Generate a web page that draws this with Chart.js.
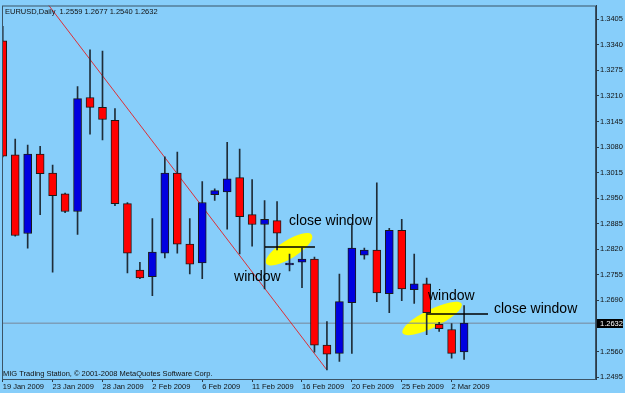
<!DOCTYPE html>
<html>
<head>
<meta charset="utf-8">
<script src="https://cdn.jsdelivr.net/npm/chart.js@4.4.1/dist/chart.umd.min.js"></script>
<style>
  html, body { margin: 0; padding: 0; background: #87cefa; }
  canvas { display: block; }
</style>
</head>
<body>
<canvas id="chart" width="625" height="393"></canvas>
<script>
// daily bars (broker feed includes sunday bars)
const dates = ['19 Jan 2009', '20 Jan 2009', '21 Jan 2009', '22 Jan 2009', '23 Jan 2009', '25 Jan 2009',
    '26 Jan 2009', '27 Jan 2009', '28 Jan 2009', '29 Jan 2009', '30 Jan 2009', '1 Feb 2009',
    '2 Feb 2009', '3 Feb 2009', '4 Feb 2009', '5 Feb 2009', '6 Feb 2009', '8 Feb 2009',
    '9 Feb 2009', '10 Feb 2009', '11 Feb 2009', '12 Feb 2009', '13 Feb 2009', '15 Feb 2009',
    '16 Feb 2009', '17 Feb 2009', '18 Feb 2009', '19 Feb 2009', '20 Feb 2009', '22 Feb 2009',
    '23 Feb 2009', '24 Feb 2009', '25 Feb 2009', '26 Feb 2009', '27 Feb 2009', '1 Mar 2009',
    '2 Mar 2009', '3 Mar 2009'];
const openP = [1.3350, 1.3060, 1.2860, 1.3062, 1.3014, 1.2961, 1.2916, 1.3206, 1.3181, 1.3148,
    1.2936, 1.2767, 1.2750, 1.2810, 1.3014, 1.2833, 1.2785, 1.2959, 1.2966, 1.3002,
    1.2908, 1.2883, 1.2893, 1.2780, 1.2787, 1.2795, 1.2576, 1.2555, 1.2684, 1.2805,
    1.2818, 1.2707, 1.2868, 1.2717, 1.2732, 1.2629, 1.2616, 1.2559];
const highP = [1.3387, 1.3100, 1.3085, 1.3082, 1.3034, 1.2963, 1.3234, 1.3327, 1.3324, 1.3178,
    1.2939, 1.2787, 1.2898, 1.3055, 1.3067, 1.2898, 1.2992, 1.2974, 1.3092, 1.3075,
    1.2997, 1.2944, 1.2941, 1.2808, 1.2823, 1.2800, 1.2636, 1.2757, 1.2883, 1.2823,
    1.2989, 1.2873, 1.2896, 1.2808, 1.2747, 1.2634, 1.2631, 1.2677];
const lowP = [1.3055, 1.2853, 1.2823, 1.2908, 1.2762, 1.2913, 1.2858, 1.3113, 1.3098, 1.2931,
    1.2760, 1.2745, 1.2702, 1.2798, 1.2810, 1.2757, 1.2745, 1.2944, 1.2871, 1.2808,
    1.2828, 1.2719, 1.2818, 1.2765, 1.2722, 1.2558, 1.2513, 1.2535, 1.2555, 1.2795,
    1.2687, 1.2659, 1.2689, 1.2682, 1.2603, 1.2611, 1.2543, 1.2540];
const closeP = [1.3057, 1.2855, 1.3062, 1.3012, 1.2956, 1.2916, 1.3203, 1.3181, 1.3150, 1.2936,
    1.2810, 1.2747, 1.2813, 1.3014, 1.2833, 1.2782, 1.2939, 1.2969, 1.2999, 1.2903,
    1.2883, 1.2896, 1.2861, 1.2785, 1.2795, 1.2576, 1.2553, 1.2687, 1.2823, 1.2818,
    1.2709, 1.2868, 1.2719, 1.2732, 1.2659, 1.2618, 1.2555, 1.2632];

const tickDates = ['19 Jan 2009', '23 Jan 2009', '28 Jan 2009', '2 Feb 2009', '6 Feb 2009',
    '11 Feb 2009', '16 Feb 2009', '20 Feb 2009', '25 Feb 2009', '2 Mar 2009'];
const priceTicks = [1.2495, 1.2560, 1.2625, 1.2690, 1.2755, 1.2820, 1.2885, 1.2950,
    1.3015, 1.3080, 1.3145, 1.3210, 1.3275, 1.3340, 1.3405];

// red trend line: [bar index, price]
const trendX = [3, 26];
const trendY = [1.3469, 1.2513];

// hand drawn notes
const noteText = ['close window', 'window', 'window', 'close window'];
const noteX = [22.96, 18.55, 34.1, 39.4];
const noteY = [1.2881, 1.2740, 1.2690, 1.2657];
const gapFrom = [21.03, 34.03];
const gapTo = [25.04, 38.92];
const gapPrice = [1.2825, 1.2656];
const ellX = [22.96, 34.43];
const ellY = [1.2820, 1.2644];

const title = 'EURUSD,Daily  1.2559 1.2677 1.2540 1.2632';
const footer = 'MIG Trading Station, \u00a9 2001-2008 MetaQuotes Software Corp.';

const xMin = -0.06, xMax = 47.58;
const lastClose = closeP[closeP.length - 1];

const isUp = i => closeP[i] >= openP[i];

const drawNotes = {
    id: 'drawNotes',
    beforeDatasetsDraw(chart) {
        const ctx = chart.ctx, x = chart.scales.x, y = chart.scales.y;
        ctx.save();
        ctx.fillStyle = '#ffff00';
        const rx = [27, 33], ry = [9, 9], rot = [-0.56, -0.46];
        for (let i = 0; i < ellX.length; i++) {
            ctx.beginPath();
            ctx.ellipse(x.getPixelForValue(ellX[i]), y.getPixelForValue(ellY[i]), rx[i], ry[i], rot[i], 0, Math.PI * 2);
            ctx.fill();
        }
        ctx.restore();
    },
    afterDatasetsDraw(chart) {
        const ctx = chart.ctx, x = chart.scales.x, y = chart.scales.y;
        const a = chart.chartArea;
        ctx.save();
        // gap lines
        ctx.strokeStyle = '#000';
        ctx.lineWidth = 1.5;
        for (let i = 0; i < gapFrom.length; i++) {
            const py = Math.round(y.getPixelForValue(gapPrice[i]));
            ctx.beginPath();
            ctx.moveTo(x.getPixelForValue(gapFrom[i]), py);
            ctx.lineTo(x.getPixelForValue(gapTo[i]), py);
            ctx.stroke();
        }
        // labels
        ctx.fillStyle = '#000';
        ctx.font = '14px "Liberation Sans", Arial, sans-serif';
        ctx.textBaseline = 'alphabetic';
        ctx.textAlign = 'left';
        for (let i = 0; i < noteText.length; i++) {
            ctx.fillText(noteText[i], x.getPixelForValue(noteX[i]), y.getPixelForValue(noteY[i]));
        }
        // frame
        ctx.strokeStyle = '#3b5466';
        ctx.lineWidth = 1;
        ctx.strokeRect(a.left + 0.5, a.top + 0.5, a.right - a.left - 1, a.bottom - a.top);
        // title and footer
        ctx.font = '7.5px "Liberation Sans", Arial, sans-serif';
        ctx.fillStyle = '#111';
        ctx.fillText(title, a.left + 3, a.top + 8);
        ctx.fillText(footer, a.left + 1, a.bottom - 3);
        // current price box
        const py = Math.round(y.getPixelForValue(lastClose));
        ctx.fillStyle = '#000';
        ctx.fillRect(a.right + 1, py - 4, 26, 9);
        ctx.fillStyle = '#fff';
        ctx.textBaseline = 'middle';
        ctx.fillText(lastClose.toFixed(4), a.right + 4, py + 0.5);
        ctx.restore();
    }
};

const data = {
    datasets: [
        {
            type: 'bar',
            label: 'body',
            data: dates.map((d, i) => ({ x: i, y: [openP[i], closeP[i]] })),
            backgroundColor: c => isUp(c.dataIndex) ? '#0000e0' : '#ff0000',
            borderColor: '#1a1a1a',
            borderWidth: 1,
            borderSkipped: false,
            barThickness: 8,
            grouped: false,
            order: 1
        },
        {
            type: 'bar',
            label: 'wick',
            data: dates.map((d, i) => ({ x: i, y: [lowP[i], highP[i]] })),
            backgroundColor: '#1f2d38',
            borderWidth: 0,
            barThickness: 1,
            grouped: false,
            order: 2
        },
        {
            type: 'line',
            label: 'trend',
            data: trendX.map((v, i) => ({ x: v, y: trendY[i] })),
            borderColor: 'rgba(235, 20, 20, 0.85)',
            borderWidth: 1,
            pointRadius: 0,
            order: 3
        },
        {
            type: 'line',
            label: 'bid',
            data: [{ x: xMin, y: lastClose }, { x: xMax, y: lastClose }],
            borderColor: '#778899',
            borderWidth: 1,
            pointRadius: 0,
            order: 4
        }
    ]
};

const config = {
    type: 'bar',
    data: data,
    options: {
        responsive: false,
        animation: false,
        events: [],
        layout: {
            padding: { top: 2, left: 2, right: 0, bottom: 0 }
        },
        plugins: {
            legend: { display: false },
            tooltip: { enabled: false }
        },
        scales: {
            x: {
                type: 'linear',
                offset: false,
                min: xMin,
                max: xMax,
                afterFit: s => { s.height = 14; },
                afterBuildTicks: s => {
                    s.ticks = tickDates.map(d => ({ value: dates.indexOf(d) }));
                },
                grid: { offset: false, drawOnChartArea: false, drawTicks: true, tickLength: 3, color: '#2b3b48' },
                border: { display: true, color: '#2b3b48' },
                ticks: {
                    autoSkip: false,
                    maxRotation: 0,
                    align: 'start',
                    padding: 0,
                    color: '#111',
                    font: { size: 7.5 },
                    callback: v => dates[v]
                }
            },
            y: {
                position: 'right',
                min: 1.2490,
                max: 1.3440,
                afterFit: s => { s.width = 29; },
                afterBuildTicks: s => {
                    s.ticks = priceTicks.map(v => ({ value: v }));
                },
                grid: { drawOnChartArea: false, drawTicks: true, tickLength: 3, color: '#2b3b48' },
                border: { display: true, color: '#2b3b48' },
                ticks: {
                    padding: 1,
                    color: '#111',
                    font: { size: 7.5 },
                    callback: v => v.toFixed(4)
                }
            }
        }
    },
    plugins: [drawNotes]
};

Chart.defaults.font.family = '"Liberation Sans", Arial, sans-serif';
const chart = new Chart(document.getElementById('chart'), config);
</script>
</body>
</html>
